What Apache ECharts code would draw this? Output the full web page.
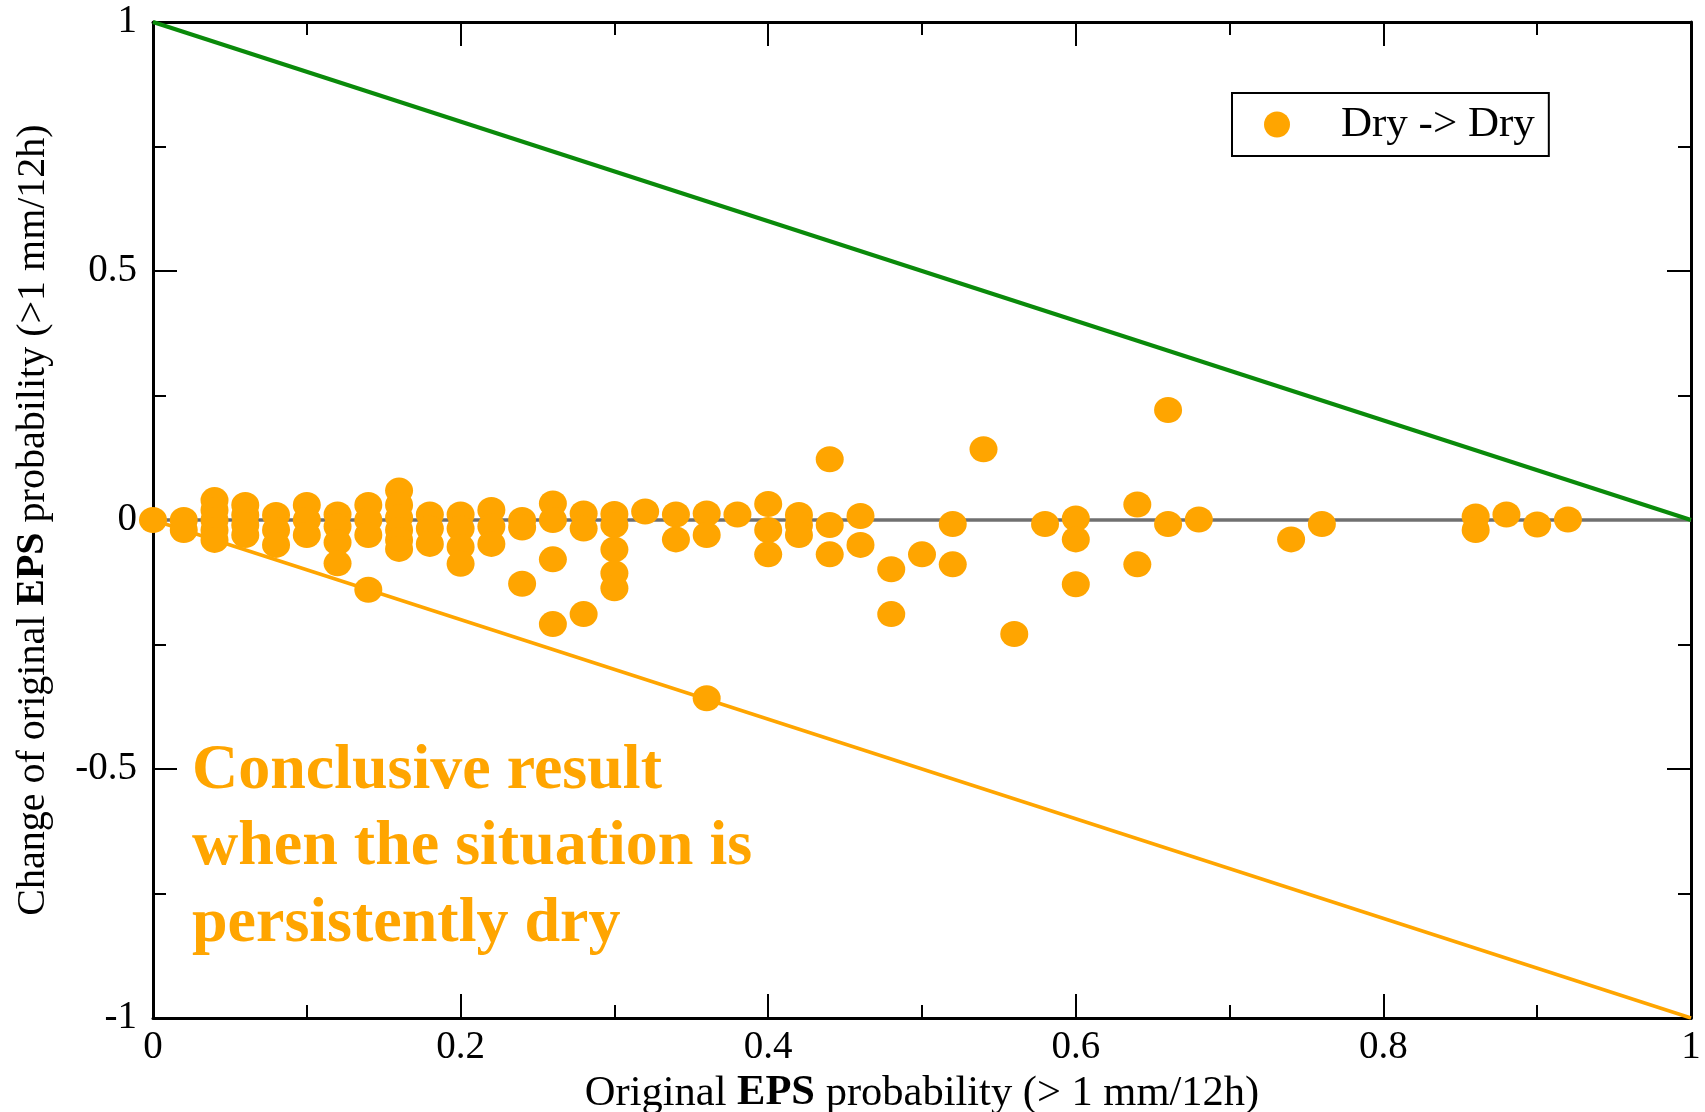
<!DOCTYPE html>
<html>
<head>
<meta charset="utf-8">
<script src="https://cdn.jsdelivr.net/npm/echarts@6/dist/echarts.min.js"></script>
<style>
html,body{margin:0;padding:0;background:#fff;}
#chart{width:1705px;height:1112px;}
</style>
</head>
<body>
<div id="chart"></div>
<script>
// Original EPS probability (x) of each Dry -> Dry case
const origProb = [
  0,
  0.02, 0.02,
  0.04, 0.04, 0.04, 0.04, 0.04,
  0.06, 0.06, 0.06, 0.06,
  0.08, 0.08, 0.08,
  0.10, 0.10, 0.10,
  0.12, 0.12, 0.12, 0.12,
  0.14, 0.14, 0.14, 0.14,
  0.16, 0.16, 0.16, 0.16, 0.16, 0.16,
  0.18, 0.18, 0.18,
  0.20, 0.20, 0.20, 0.20,
  0.22, 0.22, 0.22,
  0.24, 0.24, 0.24,
  0.26, 0.26, 0.26, 0.26,
  0.28, 0.28, 0.28,
  0.30, 0.30, 0.30, 0.30, 0.30,
  0.32,
  0.34, 0.34,
  0.36, 0.36, 0.36,
  0.38,
  0.40, 0.40, 0.40,
  0.42, 0.42, 0.42,
  0.44, 0.44, 0.44,
  0.46, 0.46,
  0.48, 0.48,
  0.50,
  0.52, 0.52,
  0.54,
  0.56,
  0.58,
  0.60, 0.60, 0.60,
  0.64, 0.64,
  0.66, 0.66,
  0.68,
  0.74,
  0.76,
  0.86, 0.86,
  0.88,
  0.90,
  0.92
];
// Change of original EPS probability (y) for the same cases
const probChange = [
  0,
  0, -0.02,
  0.04, 0.02, 0, -0.02, -0.04,
  0.03, 0.01, -0.01, -0.03,
  0.01, -0.02, -0.05,
  0.03, 0, -0.03,
  0.011, -0.013, -0.045, -0.087,
  0.03, 0, -0.03, -0.14,
  0.059, 0.03, 0.005, -0.02, -0.04, -0.058,
  0.011, -0.017, -0.048,
  0.011, -0.017, -0.054, -0.088,
  0.02, -0.013, -0.048,
  0, -0.015, -0.128,
  0.033, 0, -0.079, -0.209,
  0.013, -0.017, -0.189,
  0.012, -0.01, -0.059, -0.107, -0.137,
  0.017,
  0.011, -0.039,
  0.013, -0.03, -0.358,
  0.011,
  0.032, -0.02, -0.069,
  0.01, -0.01, -0.03,
  0.122, -0.01, -0.069,
  0.008, -0.05,
  -0.099, -0.189,
  -0.069,
  -0.008, -0.089,
  0.142,
  -0.229,
  -0.008,
  0.003, -0.039, -0.129,
  0.031, -0.089,
  0.221, -0.008,
  0.001,
  -0.039,
  -0.008,
  0.007, -0.02,
  0.011,
  -0.009,
  0.001
];
// Reference lines
const upperBound = [[0, 1], [1, 0]];   // max possible increase
const lowerBound = [[0, 0], [1, -1]];  // max possible decrease
const zeroLine = [[0, 0], [1, 0]];

const xTicks = {min: 0, max: 1, interval: 0.2};
const yTicks = {min: -1, max: 1, interval: 0.5};

const annotationLines = ['Conclusive result', 'when the situation is', 'persistently dry'];
const seriesName = 'Dry -> Dry';

const SERIF = '"Liberation Serif", "DejaVu Serif", serif';
const ORANGE = '#ffa500';

const points = origProb.map((x, i) => [x, probChange[i]]);

const chart = echarts.init(document.getElementById('chart'));

const axisCommon = {
  axisLine: {show: true, onZero: false, lineStyle: {color: '#000', width: 3}},
  axisTick: {show: true, inside: true, length: 24, lineStyle: {color: '#000', width: 2}},
  minorTick: {show: true, splitNumber: 2, length: 13, lineStyle: {color: '#000', width: 2}},
  splitLine: {show: false}
};

chart.setOption({
  animation: false,
  backgroundColor: '#fff',
  grid: {left: 153, right: 14, top: 22, bottom: 94, containLabel: false, outerBoundsMode: 'none'},
  legend: {
    data: [seriesName],
    left: 1232, top: 93,
    orient: 'vertical',
    padding: [10, 14, 10, 32],
    itemWidth: 28, itemHeight: 26,
    borderColor: '#000', borderWidth: 2,
    backgroundColor: '#fff',
    textStyle: {fontFamily: SERIF, fontSize: 43, color: '#000', padding: [0, 0, 0, 45]}
  },
  xAxis: [
    Object.assign({}, axisCommon, {
      type: 'value', position: 'bottom', min: xTicks.min, max: xTicks.max, interval: xTicks.interval,
      axisLabel: {show: true, fontFamily: SERIF, fontSize: 39, color: '#000', margin: 10},
      name: '{n|Original }{b|EPS}{n| probability (> 1 mm/12h)}',
      nameLocation: 'middle', nameGap: 45,
      nameTextStyle: {rich: {
        n: {fontFamily: SERIF, fontSize: 42.5, color: '#000'},
        b: {fontFamily: SERIF, fontSize: 42.5, color: '#000', fontWeight: 'bold'}
      }}
    }),
    Object.assign({}, axisCommon, {
      type: 'value', position: 'top', min: xTicks.min, max: xTicks.max, interval: xTicks.interval,
      axisLabel: {show: false}
    })
  ],
  yAxis: [
    Object.assign({}, axisCommon, {
      type: 'value', position: 'left', min: yTicks.min, max: yTicks.max, interval: yTicks.interval,
      axisLabel: {show: true, fontFamily: SERIF, fontSize: 39, color: '#000', margin: 16},
      name: '{n|Change of original }{b|EPS}{n| probability (>1 mm/12h)}',
      nameLocation: 'middle', nameGap: 100,
      nameTextStyle: {rich: {
        n: {fontFamily: SERIF, fontSize: 40, color: '#000'},
        b: {fontFamily: SERIF, fontSize: 40, color: '#000', fontWeight: 'bold'}
      }}
    }),
    Object.assign({}, axisCommon, {
      type: 'value', position: 'right', min: yTicks.min, max: yTicks.max, interval: yTicks.interval,
      axisLabel: {show: false}
    })
  ],
  series: [
    {
      name: 'zero', type: 'line', data: zeroLine, symbol: 'none', z: 1,
      lineStyle: {color: '#707070', width: 3.5}, silent: true
    },
    {
      name: 'upper', type: 'line', data: upperBound, symbol: 'none', z: 2,
      lineStyle: {color: '#0a8a0a', width: 4}, silent: true
    },
    {
      name: 'lower', type: 'line', data: lowerBound, symbol: 'none', z: 2,
      lineStyle: {color: ORANGE, width: 3.5}, silent: true
    },
    {
      name: seriesName, type: 'scatter', data: points, z: 5,
      symbol: 'circle', symbolSize: [28, 26],
      itemStyle: {color: ORANGE, opacity: 1}
    }
  ],
  graphic: annotationLines.map((t, i) => ({
    type: 'text', left: 192, top: 739 + i * 76.5, z: 10,
    style: {text: t, fontFamily: SERIF, fontSize: 64, fontWeight: 'bold', fill: ORANGE}
  }))
});
</script>
</body>
</html>
